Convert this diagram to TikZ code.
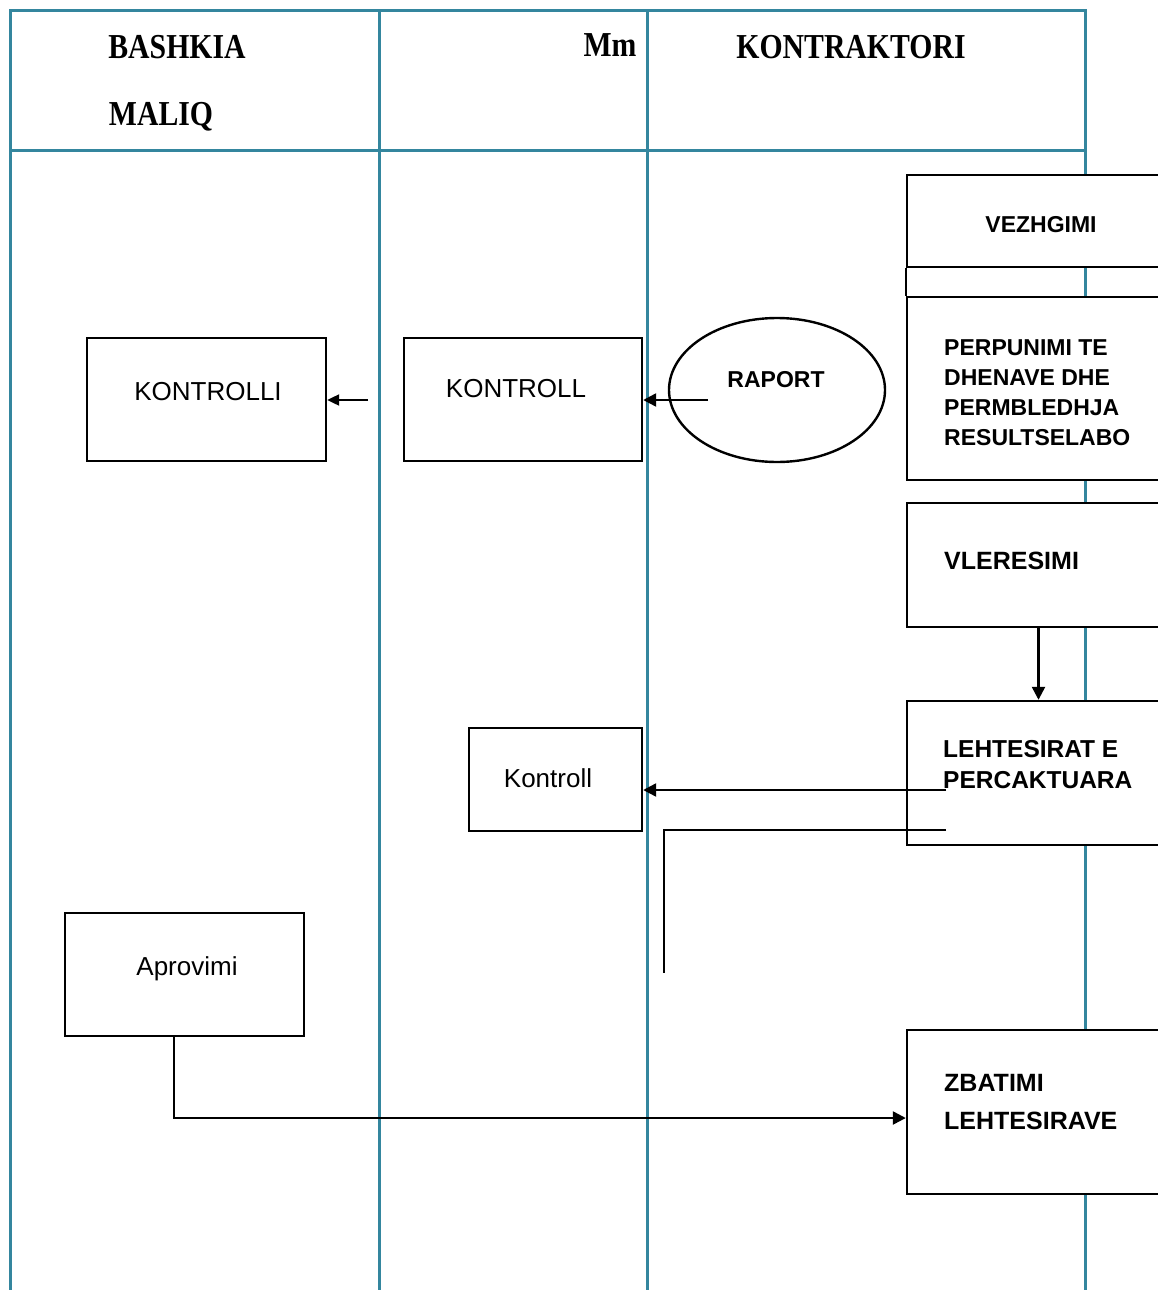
\documentclass[tikz,border=0pt]{standalone}
\usepackage{fontspec}
\setmainfont{Liberation Sans}
\newfontfamily\hdrfont[FakeStretch=0.85]{Liberation Serif}
\usetikzlibrary{arrows.meta,shapes.geometric}
\definecolor{lanecol}{RGB}{52,134,158}
\begin{document}
\begin{tikzpicture}[x=1pt,y=-1pt,
  lane/.style={draw=lanecol,line width=3pt},
  hdr/.style={font=\hdrfont\bfseries\fontsize{35}{40}\selectfont,anchor=base,inner sep=0pt},
  box/.style={draw=black,line width=2.4pt,fill=white,rectangle,inner sep=0pt},
  lbl/.style={font=\fontsize{26}{30}\selectfont,anchor=base,inner sep=0pt},
  blbl/.style={font=\bfseries\fontsize{23}{30}\selectfont,anchor=base,inner sep=0pt},
  mlbl/.style={font=\bfseries\fontsize{23}{30}\selectfont,anchor=north west,align=left,inner sep=0pt},
  arr/.style={draw=black,line width=2.4pt,-{Triangle[length=13pt,width=13pt]}},
  sarr/.style={draw=black,line width=2.2pt,-{Triangle[length=12pt,width=11pt]}},
  ln/.style={draw=black,line width=2.4pt}]
\useasboundingbox (0,0) rectangle (1158,1290);
\clip (0,0) rectangle (1158,1290);
% swimlanes
\draw[lane] (10,11) rectangle (1085,150);
\draw[lane] (10,11) -- (10,1292);
\draw[lane] (379,11) -- (379,1292);
\draw[lane] (647,11) -- (647,1292);
\draw[lane] (1085,11) -- (1085,1292);
\node[hdr] (h1) at (177,59) {BASHKIA};
\node[hdr] (h2) at (161,125) {MALIQ};
\node[hdr] (h3) at (610,57) {Mm};
\node[hdr] (h4) at (851,59) {KONTRAKTORI};
% boxes
\node[box,minimum width=239,minimum height=123] (kontrolli) at (206.5,399.5) {};
\node[lbl] (kontrolliT) at (208,400) {KONTROLLI};
\node[box,minimum width=238,minimum height=123] (kontroll) at (523,399.5) {};
\node[lbl] (kontrollT) at (516,397) {KONTROLL};
\node[draw=black,line width=2.4pt,fill=white,ellipse,minimum width=216,minimum height=144,inner sep=0pt] (raport) at (777,390) {};
\node[blbl] (raportT) at (776,387) {RAPORT};
\node[box,minimum width=263,minimum height=92] (vezh) at (1038.5,221) {};
\node[blbl] (vezhT) at (1041,232) {VEZHGIMI};
\node[box,minimum width=263,minimum height=183] (perp) at (1038.5,388.5) {};
\node[mlbl] (perpT) at (944,339) {PERPUNIMI TE\\DHENAVE DHE\\PERMBLEDHJA\\RESULTSELABO};
\draw[ln] (vezh.south west) -- (perp.north west);
\node[box,minimum width=263,minimum height=124] (vler) at (1038.5,565) {};
\node[mlbl,font=\bfseries\fontsize{25}{30}\selectfont] (vlerT) at (944,552) {VLERESIMI};
\node[box,minimum width=263,minimum height=144] (leht) at (1038.5,773) {};
\node[mlbl,font=\bfseries\fontsize{24.5}{31}\selectfont] (lehtT) at (943,740) {LEHTESIRAT E\\PERCAKTUARA};
\node[box,minimum width=173,minimum height=103] (kontroll2) at (555.5,779.5) {};
\node[lbl] (kontroll2T) at (548,787) {Kontroll};
\node[box,minimum width=239,minimum height=123] (aprov) at (184.5,974.5) {};
\node[lbl] (aprovT) at (187,975) {Aprovimi};
\node[box,minimum width=263,minimum height=164] (zbat) at (1038.5,1112) {};
\node[mlbl,font=\bfseries\fontsize{25}{38}\selectfont] (zbatT) at (944,1074) {ZBATIMI\\LEHTESIRAVE};
% connectors
\coordinate (a1) at (368,400);
\draw[sarr] (a1) -- (kontrolli.east |- a1);
\coordinate (r1) at (708,400);
\draw[arr] (r1) -- (kontroll.east |- r1);
\draw[arr] (vler.south) -- (leht.north);
\coordinate (l1) at (946,790);
\draw[arr] (l1) -- (kontroll2.east |- l1);
\coordinate (l2) at (946,830);
\coordinate (l3) at (664,973);
\draw[ln] (l2) -| (l3);
\coordinate (p1) at (174,1118);
\draw[arr] ([xshift=-10.5pt]aprov.south) -- (p1) -- (zbat.west |- p1);
\end{tikzpicture}
\end{document}
